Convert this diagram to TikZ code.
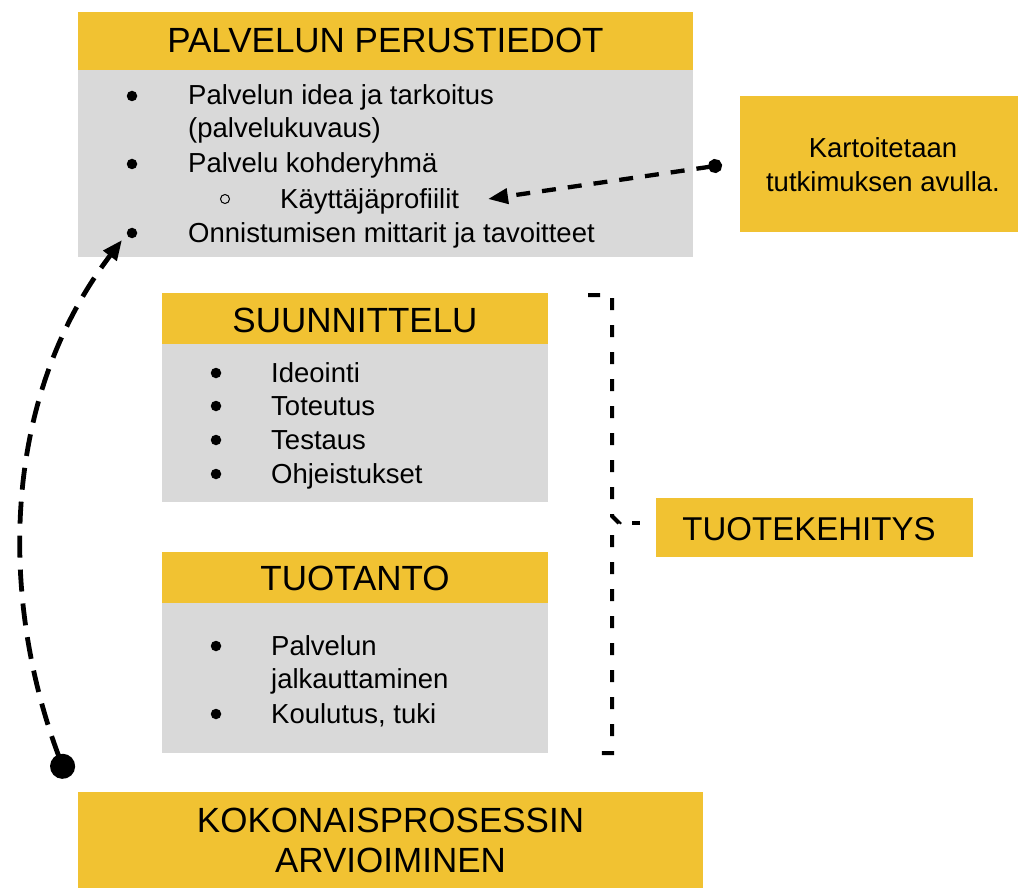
\documentclass[tikz,border=0pt]{standalone}
\usepackage{fontspec}
\setmainfont{Liberation Sans}
\usetikzlibrary{arrows.meta}
\definecolor{hdr}{HTML}{F1C232}
\definecolor{bodyg}{HTML}{D9D9D9}
\tikzset{
 box/.style={inner sep=0pt, outer sep=0pt, draw=none, anchor=north west},
 hdrbox/.style={box, fill=hdr},
 graybox/.style={box, fill=bodyg},
 hfont/.style={font=\fontsize{35}{40}\selectfont},
 bfont/.style={font=\fontsize{27.5}{33}\selectfont},
 txt/.style={inner sep=0pt, anchor=base west, bfont},
 htxt/.style={inner sep=0pt, anchor=base, hfont},
 ctxt/.style={inner sep=0pt, anchor=base, bfont},
 bul/.style={circle, fill=black, inner sep=0pt, minimum size=10.5pt},
 hbul/.style={circle, draw=black, line width=1pt, inner sep=0pt, minimum size=9pt},
 conn/.style={line width=4.3pt, dash pattern=on 14pt off 12pt},
 bigconn/.style={line width=4.8pt, dash pattern=on 22pt off 12pt},
 bracestyle/.style={line width=4pt, dash pattern=on 12pt off 15pt},
}
\begin{document}
\begin{tikzpicture}[x=1pt,y=-1pt]
\useasboundingbox (0,0) rectangle (1021,888);

% --- PALVELUN PERUSTIEDOT ---
\node[hdrbox, minimum width=615pt, minimum height=58pt] (h1) at (78,12) {};
\node[graybox, minimum width=615pt, minimum height=187pt] (g1) at (78,70) {};
\node[htxt] (h1t) at (385.5,53) {PALVELUN PERUSTIEDOT};
\node[bul] (p1b) at (132,96) {};
\node[txt] (p1) at (188,105) {Palvelun idea ja tarkoitus};
\node[txt] (p1c) at (188,138) {(palvelukuvaus)};
\node[bul] (p2b) at (132,164) {};
\node[txt] (p2) at (188,173) {Palvelu kohderyhmä};
\node[hbul] (p3b) at (225,199) {};
\node[txt] (p3) at (280,208) {Käyttäjäprofiilit};
\node[bul] (p4b) at (132,233) {};
\node[txt] (p4) at (188,242) {Onnistumisen mittarit ja tavoitteet};

% --- Kartoitetaan ---
\node[hdrbox, minimum width=278pt, minimum height=136pt] (k) at (740,96) {};
\node[ctxt] (k1) at (883,158) {Kartoitetaan};
\node[ctxt] (k2) at (883,192) {tutkimuksen avulla.};

% --- SUUNNITTELU ---
\node[hdrbox, minimum width=386pt, minimum height=51pt] (sh) at (162,293) {};
\node[graybox, minimum width=386pt, minimum height=158pt] (sg) at (162,344) {};
\node[htxt] (sht) at (355,332) {SUUNNITTELU};
\node[bul] (s1b) at (216,373) {};
\node[txt] (s1) at (271,382) {Ideointi};
\node[bul] (s2b) at (216,406) {};
\node[txt] (s2) at (271,415) {Toteutus};
\node[bul] (s3b) at (216,440) {};
\node[txt] (s3) at (271,449) {Testaus};
\node[bul] (s4b) at (216,474) {};
\node[txt] (s4) at (271,483) {Ohjeistukset};

% --- TUOTANTO ---
\node[hdrbox, minimum width=386pt, minimum height=51pt] (th) at (162,552) {};
\node[graybox, minimum width=386pt, minimum height=150pt] (tg) at (162,603) {};
\node[htxt] (tht) at (355,590) {TUOTANTO};
\node[bul] (t1b) at (216,646) {};
\node[txt] (t1) at (271,655) {Palvelun};
\node[txt] (t1c) at (271,688) {jalkauttaminen};
\node[bul] (t2b) at (216,714) {};
\node[txt] (t2) at (271,723) {Koulutus, tuki};

% --- TUOTEKEHITYS ---
\node[hdrbox, minimum width=317pt, minimum height=59pt] (tk) at (656,498) {};
\node[inner sep=0pt, anchor=base, font=\fontsize{33}{38}\selectfont] (tkt) at (809,540) {TUOTEKEHITYS};

% --- KOKONAISPROSESSIN ARVIOIMINEN ---
\node[hdrbox, minimum width=625pt, minimum height=96pt] (kk) at (78,792) {};
\node[htxt] (kk1) at (390.5,832) {KOKONAISPROSESSIN};
\node[htxt] (kk2) at (390.5,872) {ARVIOIMINEN};

% --- brace ---
\draw[bracestyle] (588,295) -- (612,295) -- (612,516) -- (619,523) -- (612,530) -- (612,753) -- (588,753);
\coordinate (bt) at (620,523);
\draw[line width=4pt, dash pattern=on 0pt off 12pt on 8pt off 100pt] (bt) -- (tk.west |- bt);

% --- connectors ---
\coordinate (kd) at (722,165);
\coordinate (kt) at (488,199);
\draw[conn, {Circle[length=14pt]}-{Triangle[length=20pt,width=15pt]}] (kd) -- (kt);

\coordinate (ad) at (67,778);
\coordinate (at) at (122,240);
\draw[bigconn, {Circle[length=25pt]}-{Triangle[length=20pt,width=16pt]}] (ad) .. controls (0,600) and (0,400) .. (at);
\end{tikzpicture}
\end{document}
